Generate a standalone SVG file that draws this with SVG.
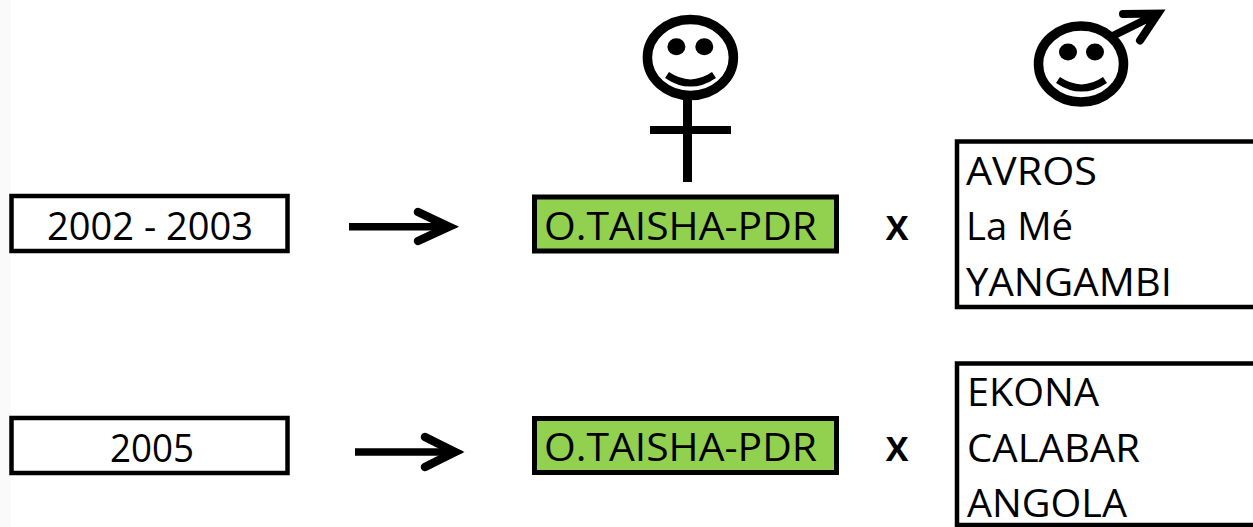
<svg xmlns="http://www.w3.org/2000/svg" width="1253" height="527" viewBox="0 0 1253 527">
<style>
.box{fill:#fff;stroke:#000;stroke-width:4.5}
.green{fill:#92d050;stroke:#000;stroke-width:5}
.open{fill:#fff;stroke:#000;stroke-width:4.5}
text{font-family:"Open Sans","Noto Sans","Liberation Sans",sans-serif;font-size:38px;fill:#000}
.x{font-weight:700;font-size:34px;text-anchor:middle}
.sym{fill:none;stroke:#000;stroke-width:9.500}
.smile{fill:none;stroke:#000;stroke-width:7}
.arrow{fill:none;stroke:#000;stroke-width:7.500}
.chevron{fill:none;stroke:#000;stroke-width:8.500;stroke-linecap:round}
.head{fill:#000;stroke:#000;stroke-width:2;stroke-linejoin:round}
</style>
<rect width="1253" height="527" fill="#fff"/>
<rect width="11" height="527" fill="#fafafa"/>
<g id="connectors">
<g id="arrow-1"><path class="arrow" d="M349 226.700H448"/><path class="chevron" d="M418 212L449 226.700L418 241"/><path class="head" d="M438 220L456 226.700L438 233Z"/></g>
<g id="arrow-2"><path class="arrow" d="M355 452H454"/><path class="chevron" d="M425 437L455 452L425 467"/><path class="head" d="M444 445L462 452L444 459Z"/></g>
</g>
<g id="female">
<ellipse class="sym" cx="690.400" cy="57.500" rx="43" ry="38"/>
<ellipse cx="676.400" cy="46.700" rx="9" ry="8.500"/>
<ellipse cx="704.300" cy="46.700" rx="9" ry="8.500"/>
<path class="smile" d="M667 75Q690.500 91 714 75"/>
<path d="M683 99H692V126H731V134H692V182H683V134H650V126H683Z"/>
</g>
<g id="male">
<ellipse class="sym" cx="1081" cy="64" rx="42.500" ry="38"/>
<ellipse cx="1068" cy="52" rx="9" ry="8.500"/>
<ellipse cx="1095" cy="52" rx="9" ry="8.500"/>
<path class="smile" d="M1058 80Q1081.500 96 1105 80"/>
<path d="M1114.600 35L1155 15M1123 14L1158 13.500L1140 40.500" fill="none" stroke="#000" stroke-width="8" stroke-linecap="round"/>
</g>
<g id="period-2002">
<rect class="box" x="11.500" y="196" width="276" height="55"/>
<text x="47" y="240" textLength="206" lengthAdjust="spacingAndGlyphs">2002 - 2003</text>
</g>
<g id="female-parent-1">
<rect class="green" x="534.500" y="197" width="302" height="54"/>
<text x="544" y="240" textLength="273" lengthAdjust="spacingAndGlyphs">O.TAISHA-PDR</text>
</g>
<g id="cross-1"><text class="x" x="897" y="240">X</text></g>
<g id="males-1">
<path class="open" d="M1253 141.500H957V307H1253"/>
<text x="966" y="185" textLength="131" lengthAdjust="spacingAndGlyphs">AVROS</text>
<text x="966" y="240" textLength="107" lengthAdjust="spacingAndGlyphs">La Mé</text>
<text x="966" y="295.500" textLength="206" lengthAdjust="spacingAndGlyphs">YANGAMBI</text>
</g>
<g id="period-2005">
<rect class="box" x="11.500" y="418" width="276" height="55"/>
<text x="110" y="461.500" textLength="84" lengthAdjust="spacingAndGlyphs">2005</text>
</g>
<g id="female-parent-2">
<rect class="green" x="534.500" y="418.500" width="302" height="54"/>
<text x="544" y="461" textLength="273" lengthAdjust="spacingAndGlyphs">O.TAISHA-PDR</text>
</g>
<g id="cross-2"><text class="x" x="897" y="461">X</text></g>
<g id="males-2">
<path class="open" d="M1253 363.500H957V525H1253"/>
<text x="967" y="406" textLength="132" lengthAdjust="spacingAndGlyphs">EKONA</text>
<text x="967" y="461.500" textLength="173" lengthAdjust="spacingAndGlyphs">CALABAR</text>
<text x="967" y="517" textLength="160" lengthAdjust="spacingAndGlyphs">ANGOLA</text>
</g>
</svg>
